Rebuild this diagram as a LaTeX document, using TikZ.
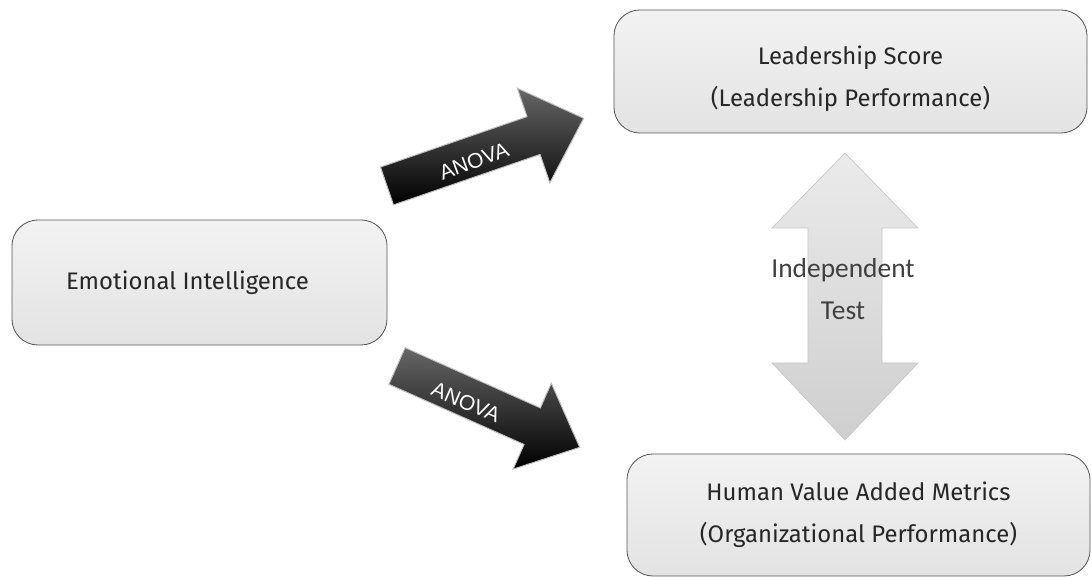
\documentclass[tikz,border=0pt]{standalone}
\usepackage{fontspec}
\setmainfont{Fira Sans}
\newfontfamily\testfont{Carlito}
\newfontfamily\anovafont{Liberation Sans}
\usetikzlibrary{shapes}
\tikzstyle{box} = [rectangle, draw=black!65, line width=0.6pt, rounded corners=0.65cm, top color=black!5, middle color=black!14, bottom color=black!11, align=center, text=black!85, font=\fontsize{17}{30}\selectfont]
\tikzstyle{anova} = [draw=black!25, line width=0.7pt, top color=black!60, middle color=black!88, bottom color=black]
\tikzstyle{ttest} = [draw=black!22, line width=0.5pt, top color=black!8, middle color=black!22, bottom color=black!19]
\tikzstyle{alabel} = [text=white, font=\anovafont\fontsize{15}{18}\selectfont]

\begin{document}
\begin{tikzpicture}[x=0.025cm, y=0.025cm]
	\useasboundingbox (0,0) rectangle (1092,577);
	\node [box, minimum width=9.375cm, minimum height=3.125cm] (ei) at (199.5,294.5) {\hspace*{-0.6cm}Emotional Intelligence};
	\node [box, minimum width=11.825cm, minimum height=3.075cm] (ls) at (850.5,505.5) {\rule{0pt}{24pt}Leadership Score\\(Leadership Performance)};
	\node [box, minimum width=11.575cm, minimum height=3.05cm] (hv) at (858.5,62) {Human Value Added Metrics\\(Organizational Performance)};
	
	\begin{scope}[shift={(387,391)}, rotate=19]
		\draw [anova] (0,20) -- (155,20) -- (155,50) -- (208,0) -- (155,-50) -- (155,-20) -- (0,-20) -- cycle;
	\end{scope}
	\node [alabel, rotate=20] (up) at (474,416) {ANOVA};
	
	\begin{scope}[shift={(397,211)}, rotate=-24]
		\draw [anova] (0,20) -- (148,20) -- (148,47) -- (200,0) -- (148,-47) -- (148,-20) -- (0,-20) -- cycle;
	\end{scope}
	\node [alabel, rotate=-23] (down) at (466,175) {ANOVA};
	
	\draw [ttest] (845,424) -- (918,349) -- (882,349) -- (882,214) -- (918,214) -- (845,137) -- (772,214) -- (808,214) -- (808,349) -- (772,349) -- cycle;
	\node [text=black!75, align=center, font=\testfont\fontsize{19.5}{30}\selectfont] (it) at (843,288) {Independent\\Test};
\end{tikzpicture}
\end{document}
